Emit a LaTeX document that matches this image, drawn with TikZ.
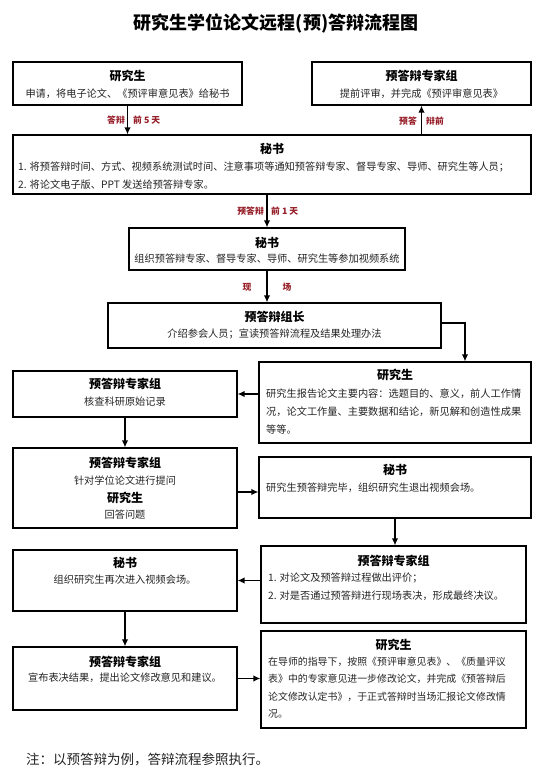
\documentclass[tikz,border=0pt]{standalone}
\usepackage{fontspec}
\setmainfont{Noto Sans CJK SC}
\usetikzlibrary{arrows.meta,fit,calc}
\definecolor{labred}{RGB}{150,30,40}
\definecolor{txt}{RGB}{35,35,35}
\tikzset{
  box/.style={draw=black, line width=1.2pt, inner sep=0pt},
  arr/.style={line width=1.4pt, -{Latex[length=7pt,width=6.5pt]}},
  ttl/.style={font=\fontsize{12}{13}\selectfont\bfseries, inner sep=0pt},
  bod/.style={font=\fontsize{10.2}{11}\selectfont, text=txt, inner sep=0pt},
  bodl/.style={bod, anchor=west},
  bods/.style={font=\fontsize{9.9}{11}\selectfont, text=txt, inner sep=0pt, anchor=west},
  lab/.style={font=\fontsize{8.8}{10}\selectfont\bfseries, text=labred, inner sep=0pt},
}
\begin{document}
\begin{tikzpicture}[x=1pt,y=-1pt]
\useasboundingbox (0,0) rectangle (553,784);
% title
\node[font=\fontsize{18}{20}\selectfont\bfseries, inner sep=0pt] (title) at (276,23) {研究生学位论文远程(预)答辩流程图};
% boxes
\node[box, fit={(13,62) (242,105)}] (b1) {};
\node[box, fit={(312,62) (531,105)}] (b2) {};
\node[box, fit={(13,135) (531,194)}] (s1) {};
\node[box, fit={(129,228) (405,270)}] (s2) {};
\node[box, fit={(108,303) (441,348)}] (lead) {};
\node[box, fit={(259,362) (531,443)}] (rep) {};
\node[box, fit={(13,371) (237,417)}] (chk) {};
\node[box, fit={(13,448) (237,528)}] (ask) {};
\node[box, fit={(259,457) (531,518)}] (ex) {};
\node[box, fit={(261,546) (526,623)}] (ev) {};
\node[box, fit={(13,550) (237,611)}] (ag) {};
\node[box, fit={(13,647) (237,710)}] (an) {};
\node[box, fit={(261,631) (526,728)}] (fin) {};
% texts
\node[ttl] (t1) at (127.5,76) {研究生};
\node[bod] (x1) at (127.5,94) {申请，将电子论文、《预评审意见表》给秘书};
\node[ttl] (t2) at (421.5,76) {预答辩专家组};
\node[bod] (x2) at (421.5,94) {提前评审，并完成《预评审意见表》};
\node[ttl] (t3) at (272,149) {秘书};
\node[bodl] (x3a) at (18,167) {1. 将预答辩时间、方式、视频系统测试时间、注意事项等通知预答辩专家、督导专家、导师、研究生等人员；};
\node[bodl] (x3b) at (18,185) {2. 将论文电子版、PPT 发送给预答辩专家。};
\node[ttl] (t4) at (267,243) {秘书};
\node[bod] (x4) at (267,259) {组织预答辩专家、督导专家、导师、研究生等参加视频系统};
\node[ttl] (t5) at (274.5,317) {预答辩组长};
\node[bod] (x5) at (274.5,334) {介绍参会人员；宣读预答辩流程及结果处理办法};
\node[ttl] (t6) at (395,375) {研究生};
\node[bodl] (x6a) at (266,394) {研究生报告论文主要内容：选题目的、意义，前人工作情};
\node[bodl] (x6b) at (266,412) {况，论文工作量、主要数据和结论，新见解和创造性成果};
\node[bodl] (x6c) at (266,430) {等等。};
\node[ttl] (t7) at (125,384) {预答辩专家组};
\node[bod] (x7) at (125,402) {核查科研原始记录};
\node[ttl] (t8) at (125,463) {预答辩专家组};
\node[bod] (x8a) at (125,481) {针对学位论文进行提问};
\node[ttl] (t8b) at (125,498) {研究生};
\node[bod] (x8b) at (125,515) {回答问题};
\node[ttl] (t9) at (395,470) {秘书};
\node[bodl] (x9) at (266,488) {研究生预答辩完毕，组织研究生退出视频会场。};
\node[ttl] (t10) at (393.5,561) {预答辩专家组};
\node[bodl] (x10a) at (268,578) {1. 对论文及预答辩过程做出评价；};
\node[bodl] (x10b) at (268,596) {2. 对是否通过预答辩进行现场表决，形成最终决议。};
\node[ttl] (t11) at (125,563) {秘书};
\node[bod] (x11) at (125,580) {组织研究生再次进入视频会场。};
\node[ttl] (t12) at (125,662) {预答辩专家组};
\node[bod] (x12) at (125,678) {宣布表决结果，提出论文修改意见和建议。};
\node[ttl] (t13) at (393.5,645) {研究生};
\node[bods] (x13a) at (268,662) {在导师的指导下，按照《预评审意见表》、《质量评议};
\node[bods] (x13b) at (268,679) {表》中的专家意见进一步修改论文，并完成《预答辩后};
\node[bods] (x13c) at (268,697) {论文修改认定书》，于正式答辩时当场汇报论文修改情};
\node[bods] (x13d) at (268,714) {况。};
% footnote
\node[font=\fontsize{13.5}{15}\selectfont, text=txt, inner sep=0pt, anchor=west] (note) at (26,760) {注：以预答辩为例，答辩流程参照执行。};
% connectors
\draw[arr] (b1.south) -- (b1.south |- s1.north);
\draw[arr] (s1.north -| b2.south) -- (b2.south);
\draw[arr] (s1.south -| s2.north) -- (s2.north);
\draw[arr] (s2.south) -- (s2.south |- lead.north);
\coordinate (c1) at (465,323);
\draw[arr] (lead.east |- c1) -- (c1) -- (c1 |- rep.north);
\draw[arr] (chk.east -| rep.west) -- (chk.east);
\draw[arr] (chk.south) -- (chk.south |- ask.north);
\coordinate (c2) at (248,492);
\draw[arr] (ask.east |- c2) -- (ex.west |- c2);
\draw[arr] (ex.south) -- (ex.south |- ev.north);
\draw[arr] (ag.east -| ev.west) -- (ag.east);
\draw[arr] (ag.south) -- (ag.south |- an.north);
\draw[arr] (an.east) -- (an.east -| fin.west);
% labels
\node[lab, anchor=east] (l1a) at (125,120) {答辩};
\node[lab, anchor=west] (l1b) at (133,120) {前 5 天};
\node[lab, anchor=east] (l2a) at (417,121) {预答};
\node[lab, anchor=west] (l2b) at (426,121) {辩前};
\node[lab, anchor=east] (l3a) at (264,211) {预答辩};
\node[lab, anchor=west] (l3b) at (271,211) {前 1 天};
\node[lab] (l4a) at (247,287) {现};
\node[lab] (l4b) at (287,287) {场};
\end{tikzpicture}
\end{document}
